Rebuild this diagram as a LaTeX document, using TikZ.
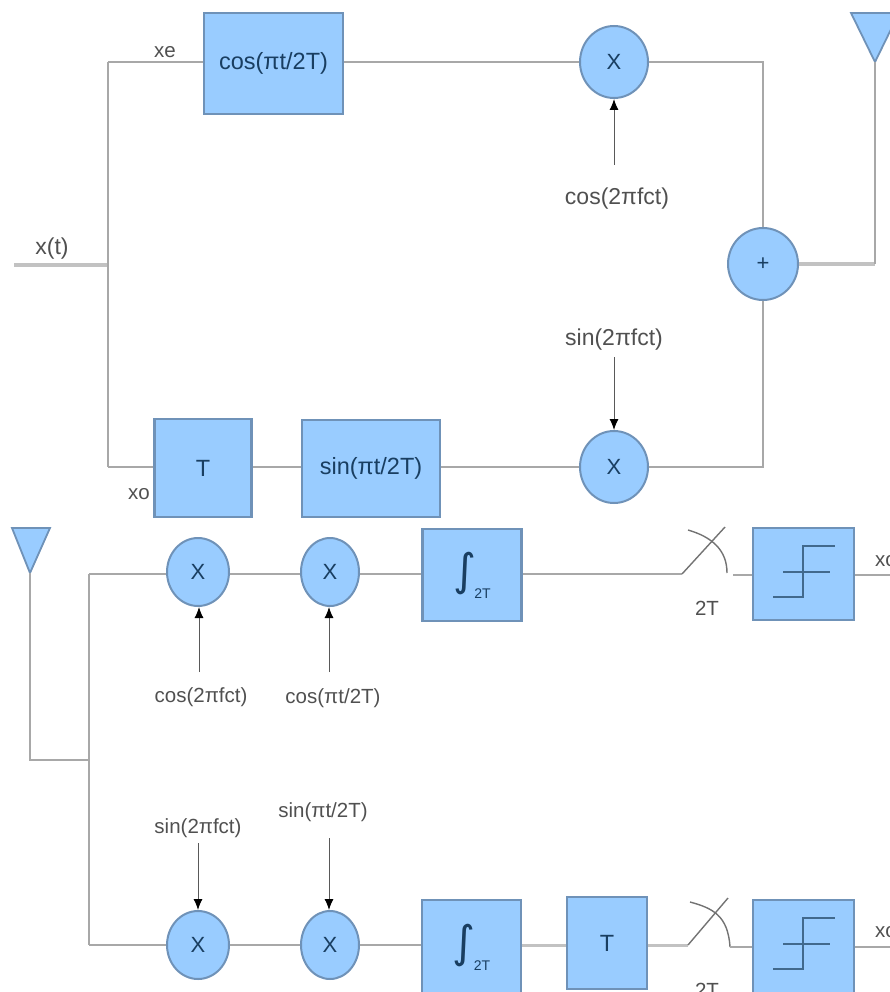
\documentclass[tikz,border=0pt]{standalone}
\usepackage{fontspec}
\usepackage{graphicx}
\setmainfont{Liberation Sans}
\newfontfamily\symfont{DejaVu Sans}
\usetikzlibrary{arrows.meta,shapes.geometric}
\definecolor{fillb}{HTML}{99CCFF}
\definecolor{edgeb}{HTML}{6F92B8}
\definecolor{wire}{HTML}{A8A8A8}
\definecolor{darkb}{HTML}{1F4E79}
\definecolor{labelc}{HTML}{505050}
\tikzset{
 x=1pt,y=-1pt,
 blockbox/.style={draw=edgeb,fill=fillb,line width=2.5pt,inner sep=0pt,font=\fontsize{23.5}{25}\selectfont,text=darkb!80!black},
 mixer/.style={ellipse,draw=edgeb,fill=fillb,line width=2pt,inner sep=0pt,font=\fontsize{22}{24}\selectfont,text=darkb!80!black},
 antenna/.style={draw=edgeb,fill=fillb,line width=1.8pt,line join=miter},
 wireline/.style={draw=wire,line width=2.2pt},
 thinwire/.style={draw=wire,line width=1.6pt},
 thickwire/.style={draw=wire!70,line width=4pt},
 sigarrow/.style={draw=black!65,line width=1pt,-{Latex[length=11pt,width=9pt,fill=black,color=black]}},
 lab/.style={text=labelc,inner sep=0pt,font=\fontsize{23}{25}\selectfont},
 lablow/.style={lab,font=\fontsize{20.5}{22}\selectfont},
 stepline/.style={draw=darkb!85,line width=1.8pt},
 switchline/.style={draw=black!55,line width=1.4pt},
}
\newcommand{\intlabel}{{\symfont\fontsize{44}{44}\selectfont ∫}\hspace{-2pt}\raisebox{-13pt}{\fontsize{14}{16}\selectfont 2T}}
\begin{document}
\begin{tikzpicture}
\useasboundingbox (0,0) rectangle (890,992);
\clip (0,0) rectangle (890,992);
% free ends and junctions
\coordinate (in) at (14,265);
\coordinate (j1) at (108,265);
\coordinate (j1t) at (108,62);
\coordinate (j1b) at (108,467);
\coordinate (c1) at (763,62);
\coordinate (c2) at (763,467);
\coordinate (a1) at (875,264);
\coordinate (a1t) at (875,62);
\coordinate (a2t) at (30,573);
\coordinate (a2b) at (30,760);
\coordinate (j2) at (89,760);
\coordinate (j2t) at (89,574);
\coordinate (j2b) at (89,945);
\coordinate (s1a) at (682,574);
\coordinate (s1b) at (725,527);
\coordinate (s1c) at (688,530);
\coordinate (s1d) at (727,573);
\coordinate (s1e) at (733,575);
\coordinate (s2a) at (688,945);
\coordinate (s2b) at (728,898);
\coordinate (s2c) at (690,902);
\coordinate (s2d) at (730,947);
\coordinate (o1) at (890,575);
\coordinate (o2) at (890,947);
\coordinate (f1) at (614,165);
\coordinate (f2) at (614,357);
\coordinate (f3) at (199,672);
\coordinate (f4) at (329,672);
\coordinate (f5) at (198,843);
\coordinate (f6) at (329,838);
% blocks
\node[blockbox,minimum width=139pt,minimum height=101pt] (cosb) at (273.5,63.5) {cos(πt/2T)};
\node[blockbox,minimum width=97pt,minimum height=98pt] (tb1) at (203,468) {T};
\node[blockbox,minimum width=138pt,minimum height=97pt] (sinb) at (371,468.5) {sin(πt/2T)};
\node[blockbox,minimum width=99pt,minimum height=92pt] (int1) at (472,575) {\intlabel};
\node[blockbox,minimum width=101pt,minimum height=92pt] (th1) at (803.5,574) {};
\node[blockbox,minimum width=99pt,minimum height=94pt] (int2) at (471.5,947) {\intlabel};
\node[blockbox,minimum width=80pt,minimum height=92pt] (tb2) at (607,943) {T};
\node[blockbox,minimum width=101pt,minimum height=94pt] (th2) at (803.5,947) {};
% mixers
\node[mixer,minimum width=68pt,minimum height=72pt] (m1) at (614,62) {X};
\node[mixer,minimum width=68pt,minimum height=72pt] (m2) at (614,467) {X};
\node[mixer,minimum width=70pt,minimum height=72pt] (sum) at (763,264) {+};
\node[mixer,minimum width=62pt,minimum height=68pt] (m3) at (198,572) {X};
\node[mixer,minimum width=58pt,minimum height=68pt] (m4) at (330,572) {X};
\node[mixer,minimum width=62pt,minimum height=68pt] (m5) at (198,945) {X};
\node[mixer,minimum width=58pt,minimum height=68pt] (m6) at (330,945) {X};
% antennas
\draw[antenna] (851,13) -- (899,13) -- (875,62) -- cycle;
\draw[antenna] (12,528) -- (50,528) -- (30,573) -- cycle;
% labels
\node[lab] (lx) at (52,249) {x(t)};
\node[lablow] (lxe) at (165,52) {xe};
\node[lablow] (lxo) at (139,494) {xo};
\node[lab] (l1) at (617,199) {cos(2πfct)};
\node[lab] (l2) at (614,340) {sin(2πfct)};
\node[lablow] (l3) at (201,697) {cos(2πfct)};
\node[lablow] (l4) at (333,698) {cos(πt/2T)};
\node[lablow] (l5) at (198,828) {sin(2πfct)};
\node[lablow] (l6) at (323,812) {sin(πt/2T)};
\node[lablow] (l7) at (707,608) {2T};
\node[lablow] (l8) at (707,990) {2T};
\node[lablow,anchor=west] (l9) at (875,561) {xo};
\node[lablow,anchor=west] (l10) at (875,932) {xo};
% wires
\draw[thickwire] (in) -- (j1);
\draw[wireline] (j1t) -- (j1b);
\draw[wireline] (j1t) -- (cosb.west |- j1t);
\draw[wireline] (cosb.east |- m1.west) -- (m1.west);
\draw[wireline] (m1.east) -- (c1) -- (sum.north);
\draw[wireline] (j1b) -- (tb1.west |- j1b);
\draw[wireline] (tb1.east |- j1b) -- (sinb.west |- j1b);
\draw[wireline] (sinb.east |- m2.west) -- (m2.west);
\draw[wireline] (m2.east) -- (c2) -- (sum.south);
\draw[thickwire] (sum.east) -- (a1);
\draw[wireline] (a1) -- (a1t);
\draw[thinwire] (a2t) -- (a2b) -- (j2);
\draw[thinwire] (j2t) -- (j2b);
\draw[thinwire] (j2t) -- (m3.west |- j2t);
\draw[thinwire] (m3.east |- j2t) -- (m4.west |- j2t);
\draw[thinwire] (m4.east |- j2t) -- (int1.west |- j2t);
\draw[thinwire] (int1.east |- j2t) -- (s1a);
\draw[switchline] (s1a) -- (s1b);
\draw[switchline] (s1c) .. controls (712,537) and (727,550) .. (s1d);
\draw[thinwire] (s1e) -- (th1.west |- s1e);
\draw[thinwire] (th1.east |- s1e) -- (o1);
\draw[thinwire] (j2b) -- (m5.west);
\draw[wireline] (m5.east) -- (m6.west);
\draw[wireline] (m6.east) -- (int2.west |- m6.east);
\draw[thickwire,line width=3pt] (int2.east |- s2a) -- (tb2.west |- s2a);
\draw[thickwire,line width=3pt] (tb2.east |- s2a) -- (s2a);
\draw[switchline] (s2a) -- (s2b);
\draw[switchline] (s2c) .. controls (712,908) and (728,915) .. (s2d);
\draw[thinwire] (s2d) -- (th2.west);
\draw[thinwire] (th2.east) -- (o2);
% signal arrows
\draw[sigarrow] (f1) -- (f1 |- m1.south);
\draw[sigarrow] (f2) -- (f2 |- m2.north);
\draw[sigarrow] (f3) -- (f3 |- m3.south);
\draw[sigarrow] (f4) -- (f4 |- m4.south);
\draw[sigarrow] (f5) -- (f5 |- m5.north);
\draw[sigarrow] (f6) -- (f6 |- m6.north);
% threshold symbols
\draw[stepline] (773,597) -- (803,597) -- (803,546) -- (835,546);
\draw[stepline,line width=1.3pt] (783,572) -- (830,572);
\draw[stepline] (773,969) -- (803,969) -- (803,918) -- (835,918);
\draw[stepline,line width=1.3pt] (783,944) -- (830,944);
\end{tikzpicture}
\end{document}
